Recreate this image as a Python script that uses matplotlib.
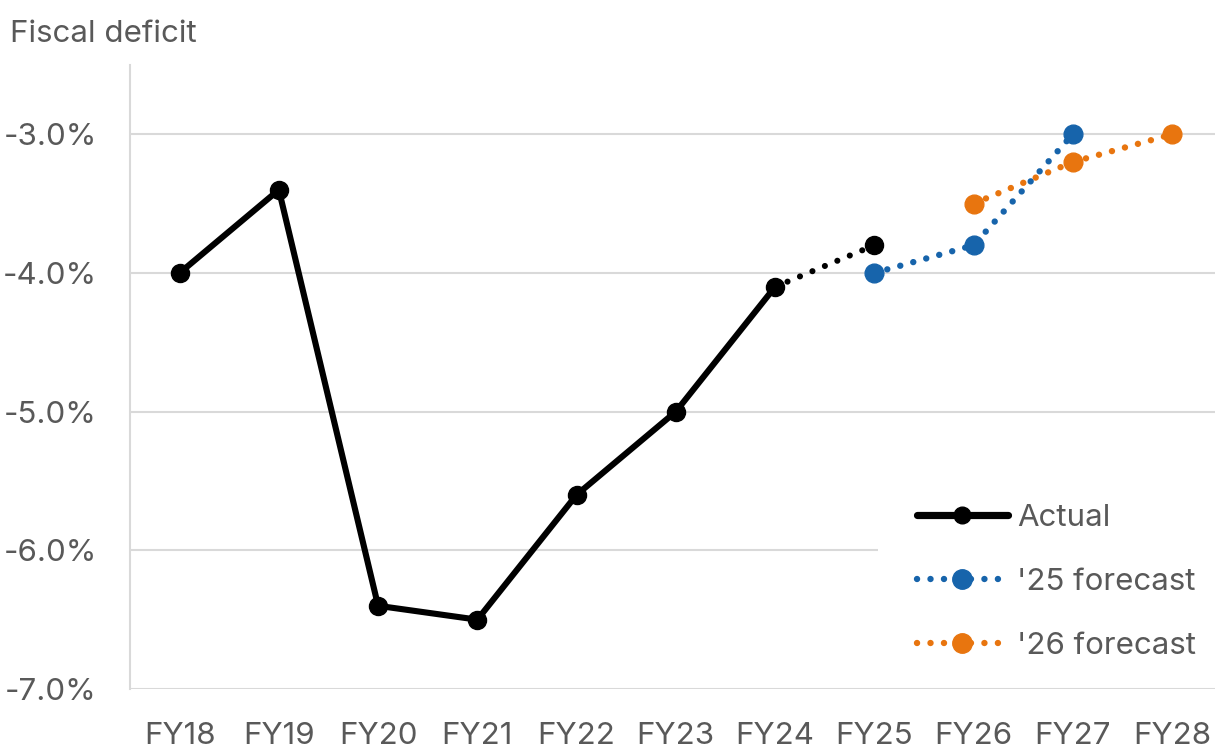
import matplotlib
matplotlib.use("Agg")
import matplotlib.pyplot as plt
from matplotlib.lines import Line2D
from matplotlib.patches import Rectangle

years = ["FY18", "FY19", "FY20", "FY21", "FY22", "FY23", "FY24", "FY25", "FY26", "FY27", "FY28"]
actual = [-4.0, -3.4, -6.4, -6.5, -5.6, -5.0, -4.1, -3.8]
fc25_years = ["FY25", "FY26", "FY27"]
fc25 = [-4.0, -3.8, -3.0]
fc26_years = ["FY26", "FY27", "FY28"]
fc26 = [-3.5, -3.2, -3.0]
y_ticks = [-7.0, -6.0, -5.0, -4.0, -3.0]

BLACK = "#000000"
BLUE = "#1764AB"
ORANGE = "#E8750F"
GRID = "#D9D9D9"
TEXT = "#595959"
FS = 22.5

plt.rcParams["font.family"] = ["Inter", "DejaVu Sans"]

W, H = 1215, 754
fig = plt.figure(figsize=(W / 100, H / 100), dpi=100)
ax = fig.add_axes([130 / W, 1 - 689 / H, (1221.6 - 130) / W, (689 - 65) / H])

xpos = {y: i for i, y in enumerate(years)}
xa = [xpos[y] for y in years[:len(actual)]]
x25 = [xpos[y] for y in fc25_years]
x26 = [xpos[y] for y in fc26_years]

LW_SOLID = 4.4
LW_DOT = 4.6
MS_BLACK = 13
MS_FC = 13.5
dot = (0, (0.01, 2.1))
dot_black = (0, (0.01, 2.2))

# Actual: solid through FY24, dotted into the FY25 estimate
ax.plot(xa[:7], actual[:7], color=BLACK, lw=LW_SOLID, solid_capstyle="round",
        solid_joinstyle="round", marker="o", ms=MS_BLACK, zorder=4)
ax.plot(xa[6:], actual[6:], color=BLACK, lw=LW_SOLID, linestyle=dot_black,
        dash_capstyle="round", zorder=4)
ax.plot(xa[7:], actual[7:], color=BLACK, lw=0, marker="o", ms=MS_BLACK, zorder=4)

ax.plot(x25, fc25, color=BLUE, lw=LW_DOT, linestyle=dot, dash_capstyle="round",
        marker="o", ms=MS_FC, zorder=3)
ax.plot(x26, fc26, color=ORANGE, lw=LW_DOT, linestyle=dot, dash_capstyle="round",
        marker="o", ms=MS_FC, zorder=3)

ax.set_xlim(-0.5, len(years) - 0.5)
ax.set_ylim(-7.0, -2.5)
ax.set_xticks(range(len(years)))
ax.set_xticklabels(years)
ax.set_yticks(y_ticks)
ax.set_yticklabels([f"{v:.1f}%" for v in y_ticks])
ax.tick_params(axis="both", length=0, labelsize=FS, labelcolor=TEXT)
ax.tick_params(axis="y", pad=24)
ax.tick_params(axis="x", pad=24)

ax.grid(axis="y", color=GRID, lw=1.5, zorder=0)
ax.set_axisbelow(True)
for side in ("top", "right", "bottom"):
    ax.spines[side].set_visible(False)
ax.spines["left"].set_color(GRID)
ax.spines["left"].set_linewidth(1.5)

# white legend panel that hides the gridline behind it
ax.add_patch(Rectangle((878 / W, 1 - 672 / H), (W - 878) / W, (672 - 488) / H,
                       transform=fig.transFigure, facecolor="white",
                       edgecolor="none", zorder=1, clip_on=False))

handles = [
    Line2D([], [], color=BLACK, lw=LW_SOLID + 0.8, marker="o", ms=12, solid_capstyle="round"),
    Line2D([], [], color=BLUE, lw=LW_DOT, linestyle=dot, dash_capstyle="round", marker="o", ms=14),
    Line2D([], [], color=ORANGE, lw=LW_DOT, linestyle=dot, dash_capstyle="round", marker="o", ms=14),
]
leg = ax.legend(handles, ["Actual", "'25 forecast", "'26 forecast"],
                loc="lower left", bbox_to_anchor=(917 / W, 1 - 660 / H),
                bbox_transform=fig.transFigure, frameon=False, fontsize=FS,
                handlelength=2.9, handletextpad=0.31, labelspacing=1.15,
                borderpad=0, borderaxespad=0, numpoints=1)
leg.set_zorder(6)
for t in leg.get_texts():
    t.set_color(TEXT)

fig.text(10 / W, 1 - 42 / H, "Fiscal deficit", fontsize=FS, color=TEXT,
         ha="left", va="baseline")

fig.savefig("out.png", dpi=100, facecolor="white")
